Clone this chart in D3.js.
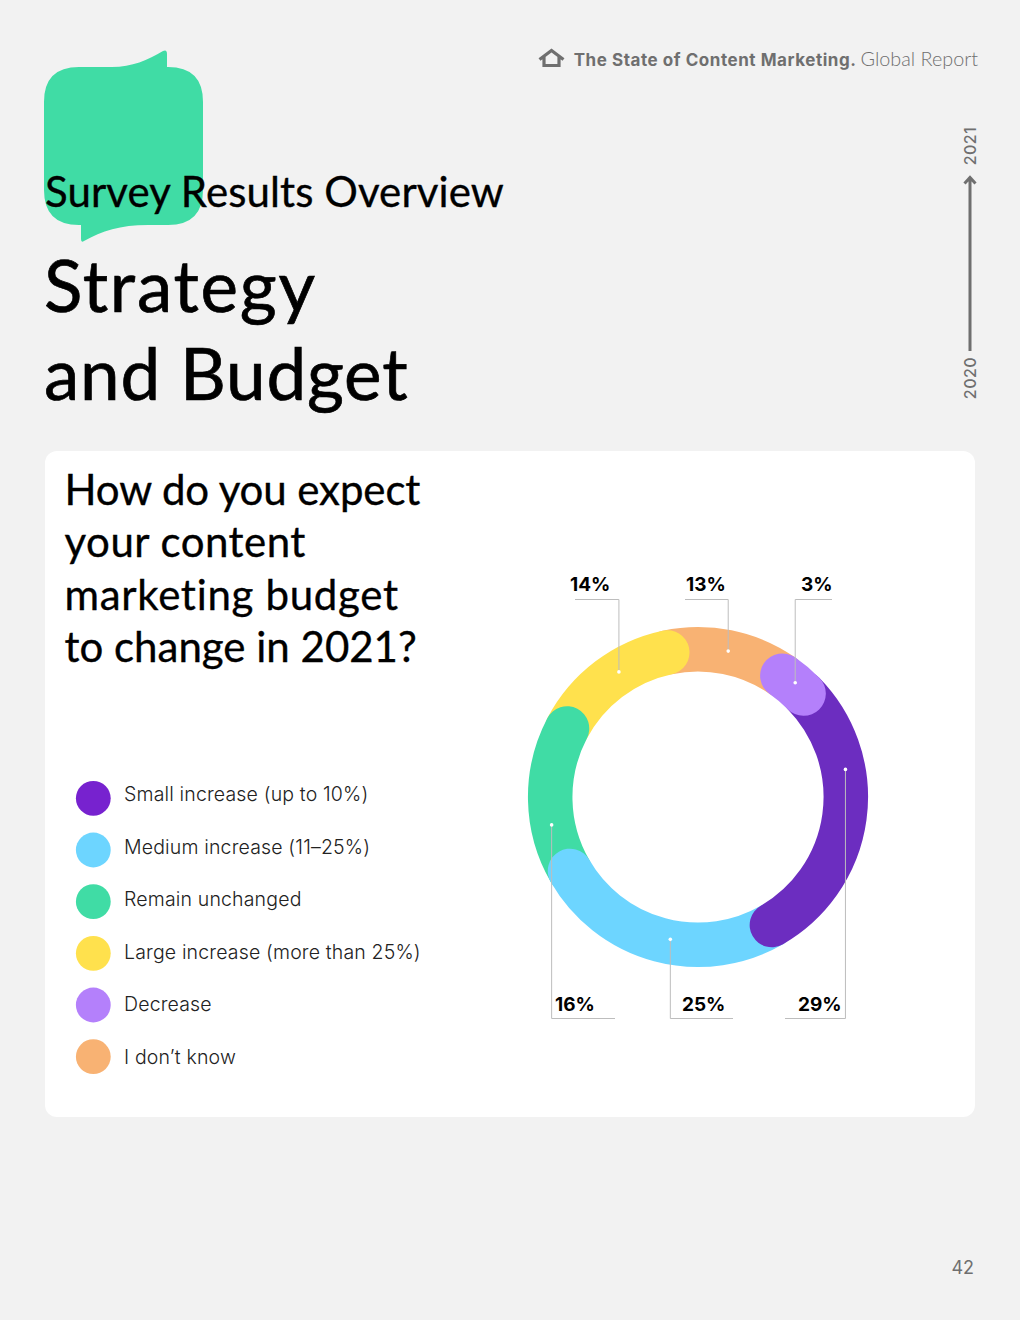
<!DOCTYPE html>
<html>
<head>
<meta charset="utf-8">
<script src="https://cdn.jsdelivr.net/npm/d3@7"></script>
<style>
    html, body { margin: 0; padding: 0; background: #f2f2f2; }
    svg { display: block; }
    text { font-family: "Lato", sans-serif; }
    .ui { font-family: "Inter", sans-serif; }
</style>
</head>
<body>
<svg id="chart" width="1020" height="1320"></svg>
<script>
// Data, legend order
const categories = ['Small increase (up to 10%)', 'Medium increase (11–25%)', 'Remain unchanged', 'Large increase (more than 25%)', 'Decrease', 'I don’t know'];
const values = [29, 25, 16, 14, 3, 13];
const legendColors = ['#7722cf', '#6dd5ff', '#40dca5', '#ffe14d', '#b480fb', '#f8b273'];
const ringColors = ['#6c2dc0', '#6dd5ff', '#40dca5', '#ffe14d', '#b480fb', '#f8b273'];
const titleLines = ['Strategy', 'and Budget'];
const questionLines = ['How do you expect', 'your content', 'marketing budget', 'to change in 2021?'];

// Lato runs a bit narrow against the original face, per line tracking
const titleTracking = [1.75, 0.8];
const questionTracking = [-0.1, 0.5, 0.7, 0];

// Ring goes clockwise from Decrease, painted back to front so each end cap overlaps the next slice
const ringOrder = [4, 0, 1, 2, 3, 5];
const paintOrder = [5, 3, 2, 1, 0, 4];
const RING_START = 34.8;

// Leaders (legend order): dot angle, dot radius, elbow y, end of the horizontal run, label x, label y
const leaderAngles = [79.4, 191, 259.2, 327.7, 40.4, 11.7];
const leaderRadii = [150, 145, 149, 148, 150, 149];
const leaderElbowY = [1018.5, 1018.5, 1018.5, 599.5, 599.5, 599.5];
const leaderEndX = [785, 733, 615, 575, 832, 685];
const labelX = [798, 682, 555, 570, 801, 686];
const labelY = [1010.5, 1010.5, 1010.5, 591, 591, 591];

const CX = 698, CY = 797, RADIUS = 147.8, RING_WIDTH = 44.5;
const GRAY = '#6f6f6f';

const svg = d3.select('#chart');
const rad = (d) => d * Math.PI / 180;

// Header
svg.append('path')
    .attr('d', 'M79 67 H112 C132 67 148 60 163 51 Q167 49 167 54 V67 H168 Q203 67 203 102 V190 Q203 225 168 225 H148 C120 225 102 231 84 241 Q81 243 81 239 V225 H79 Q44 225 44 190 V102 Q44 67 79 67 Z')
    .attr('fill', '#40dca5');

svg.append('text')
    .attr('x', 45).attr('y', 207)
    .attr('font-size', 42)
    .attr('letter-spacing', 0.1)
    .attr('fill', '#000')
    .attr('stroke', '#000')
    .attr('stroke-width', 0.35)
    .text('Survey Results Overview');

svg.selectAll('.title').data(titleLines).enter().append('text')
    .attr('class', 'title')
    .attr('x', 44)
    .attr('y', (d, i) => 312 + i * 88)
    .attr('font-size', 71)
    .attr('letter-spacing', (d, i) => titleTracking[i])
    .attr('fill', '#000')
    .attr('stroke', '#000')
    .attr('stroke-width', 0.7)
    .text((d) => d);

// Running head
svg.append('path')
    .attr('d', 'M539.5 59.5 L551.5 50.5 L563.5 59.5 M544 57 V65.5 H559 V57')
    .attr('fill', 'none')
    .attr('stroke', GRAY)
    .attr('stroke-width', 3.2);

const head = svg.append('text')
    .attr('x', 978).attr('y', 66)
    .attr('text-anchor', 'end')
    .attr('fill', GRAY);
head.append('tspan')
    .attr('class', 'ui')
    .attr('font-size', 17)
    .attr('font-weight', 700)
    .attr('letter-spacing', 0.55)
    .text('The State of Content Marketing. ');
head.append('tspan')
    .attr('font-size', 19.8)
    .attr('font-weight', 300)
    .text('Global Report');

// Time arrow
svg.append('path')
    .attr('d', 'M970 351 V178 M964.5 183.5 L970 177.5 L975.5 183.5')
    .attr('fill', 'none')
    .attr('stroke', GRAY)
    .attr('stroke-width', 3);

[['2021', 146], ['2020', 378]].forEach(([label, y]) => {
    svg.append('text')
        .attr('class', 'ui')
        .attr('transform', 'translate(976,' + y + ') rotate(-90)')
        .attr('text-anchor', 'middle')
        .attr('font-size', 16)
        .attr('font-weight', 500)
        .attr('letter-spacing', 0.5)
        .attr('fill', GRAY)
        .text(label);
});

svg.append('text')
    .attr('class', 'ui')
    .attr('x', 974).attr('y', 1274)
    .attr('text-anchor', 'end')
    .attr('font-size', 18)
    .attr('fill', GRAY)
    .text('42');

// Card
svg.append('rect')
    .attr('x', 45).attr('y', 451)
    .attr('width', 930).attr('height', 666)
    .attr('rx', 12)
    .attr('fill', '#fff');

svg.selectAll('.question').data(questionLines).enter().append('text')
    .attr('class', 'question')
    .attr('x', 64.5)
    .attr('y', (d, i) => 505 + i * 52.4)
    .attr('font-size', 42)
    .attr('letter-spacing', (d, i) => questionTracking[i])
    .attr('fill', '#000')
    .attr('stroke', '#000')
    .attr('stroke-width', 0.35)
    .text((d) => d);

// Legend
const swatchY = d3.scalePoint().domain(categories).range([798.3, 1056.7]);
const legendTextY = d3.scalePoint().domain(categories).range([801, 1063.8]);
svg.selectAll('.swatch').data(categories).enter().append('circle')
    .attr('class', 'swatch')
    .attr('cx', 93.3)
    .attr('cy', (d) => swatchY(d))
    .attr('r', 17.4)
    .attr('fill', (d, i) => legendColors[i]);
svg.selectAll('.legend').data(categories).enter().append('text')
    .attr('class', 'legend ui')
    .attr('x', 124)
    .attr('y', (d) => legendTextY(d))
    .attr('font-size', 19.5)
    .attr('font-weight', 300)
    .attr('letter-spacing', 0.16)
    .attr('fill', '#222')
    .text((d) => d);

// Ring
const pie = d3.pie()
    .sort(null)
    .value((i) => values[i])
    .startAngle(rad(RING_START))
    .endAngle(rad(RING_START) + 2 * Math.PI);
const slices = pie(ringOrder);
const sliceOf = (i) => slices.find((s) => s.data === i);

const ring = svg.append('g').attr('transform', 'translate(' + CX + ',' + CY + ')');
ring.selectAll('path').data(paintOrder.map(sliceOf)).enter().append('path')
    .attr('d', (s) => {
        // stroked centre line, d3.path angles start at 3 o'clock
        const p = d3.path();
        p.arc(0, 0, RADIUS, s.startAngle - Math.PI / 2, s.endAngle - Math.PI / 2);
        return p.toString();
    })
    .attr('fill', 'none')
    .attr('stroke', (s) => ringColors[s.data])
    .attr('stroke-width', RING_WIDTH)
    .attr('stroke-linecap', 'round');

// Leaders
const leaders = svg.append('g');
values.forEach((v, i) => {
    const [dx, dy] = d3.pointRadial(rad(leaderAngles[i]), leaderRadii[i]);
    const x = CX + dx, y = CY + dy;
    leaders.append('path')
        .attr('d', 'M' + x + ' ' + y + ' V' + leaderElbowY[i] + ' H' + leaderEndX[i])
        .attr('fill', 'none')
        .attr('stroke', '#bdbdbd')
        .attr('stroke-width', 1);
    leaders.append('circle')
        .attr('cx', x).attr('cy', y)
        .attr('r', 1.8)
        .attr('fill', '#fff');
    leaders.append('text')
        .attr('class', 'ui')
        .attr('x', labelX[i])
        .attr('y', labelY[i])
        .attr('font-size', 19)
        .attr('font-weight', 700)
        .attr('fill', '#000')
        .text(v + '%');
});
</script>
</body>
</html>
